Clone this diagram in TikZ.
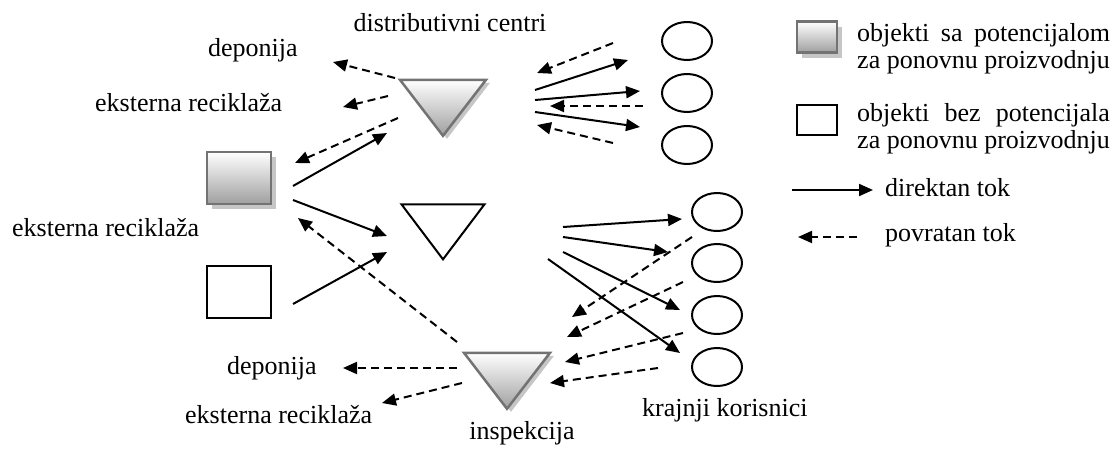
\documentclass[tikz,border=0pt]{standalone}
\usepackage{fontspec}
\usepackage{calc}
\setmainfont{Liberation Serif}
\usetikzlibrary{arrows.meta,%
                shapes.geometric,%
                shadows}

\newcommand{\legtxt}[3]{\begin{tabular}{@{}l@{}}\makebox[\widthof{za ponovnu proizvodnju}][s]{#1\hfill #2\hfill #3}\\za ponovnu proizvodnju\end{tabular}}

\tikzset{
  lbl/.style={font=\fontsize{26}{27}\selectfont, inner sep=0pt},
  fwd/.style={line width=2pt, -{Triangle[length=14pt,width=12pt]}},
  bck/.style={line width=2pt, dash pattern=on 8pt off 5pt, -{Triangle[length=14pt,width=12pt]}},
  potbox/.style={draw=gray!90!black, line width=2.5pt, top color=white, bottom color=gray!75,
    drop shadow={shadow xshift=5pt, shadow yshift=-5pt, fill=gray!45, opacity=1}},
  plainbox/.style={draw, line width=2pt, fill=white},
  pottri/.style={isosceles triangle, isosceles triangle stretches, shape border rotate=270,
    minimum width=86pt, minimum height=56pt, inner sep=0pt,
    draw=gray!90!black, line width=2.5pt, top color=white, bottom color=gray!75,
    drop shadow={shadow xshift=4pt, shadow yshift=-3pt, fill=gray!45, opacity=1}},
  plaintri/.style={isosceles triangle, isosceles triangle stretches, shape border rotate=270,
    minimum width=83pt, minimum height=55pt, inner sep=0pt, draw, line width=2pt},
  korisnik/.style={ellipse, draw, line width=2pt, minimum width=50pt, minimum height=38pt, inner sep=0pt}
}

\begin{document}
\begin{tikzpicture}[x=1pt,y=-1pt]
\useasboundingbox (0,0) rectangle (1116,450);

\node[potbox, minimum width=64pt, minimum height=52pt] (SQ1) at (239,178) {};
\node[plainbox, minimum width=64pt, minimum height=52pt] (SQ2) at (239,292) {};
\node[pottri] (DC1) at (443,101) {};
\node[plaintri] (DC2) at (443,225) {};
\node[pottri] (INS) at (507,374) {};

\node[korisnik] (K1) at (687,41) {};
\node[korisnik] (K2) at (687,93) {};
\node[korisnik] (K3) at (687,145) {};
\node[korisnik] (K4) at (717,212) {};
\node[korisnik] (K5) at (717,263) {};
\node[korisnik] (K6) at (717,315) {};
\node[korisnik] (K7) at (717,367) {};

\node[lbl] (tDC) at (450,23) {distributivni centri};
\node[lbl, anchor=west] (tDep1) at (208,50) {deponija};
\node[lbl, anchor=west] (tRec1) at (95,103) {eksterna reciklaža};
\node[lbl, anchor=west] (tRec2) at (12,228) {eksterna reciklaža};
\node[lbl, anchor=west] (tDep2) at (227,368) {deponija};
\node[lbl, anchor=west] (tRec3) at (185,415) {eksterna reciklaža};
\node[lbl] (tIns) at (522,433) {inspekcija};
\node[lbl, anchor=west] (tKK) at (642,410) {krajnji korisnici};

\coordinate (a1) at (395,78);  \coordinate (b1) at (333,62);
\coordinate (a2) at (388,96);  \coordinate (b2) at (343,107);
\coordinate (a3) at (398,118); \coordinate (b3) at (295,163);
\coordinate (a4) at (293,186); \coordinate (b4) at (387,133);
\coordinate (a5) at (293,200); \coordinate (b5) at (387,236);
\coordinate (a6) at (457,342); \coordinate (b6) at (298,218);
\coordinate (a7) at (293,304); \coordinate (b7) at (387,252);
\draw[bck] (a1) -- (b1);
\draw[bck] (a2) -- (b2);
\draw[bck] (a3) -- (b3);
\draw[fwd] (a4) -- (b4);
\draw[fwd] (a5) -- (b5);
\draw[bck] (a6) -- (b6);
\draw[fwd] (a7) -- (b7);

\coordinate (a8) at (613,43);   \coordinate (b8) at (537,73);
\coordinate (a9) at (535,90);   \coordinate (b9) at (628,60);
\coordinate (a10) at (535,100); \coordinate (b10) at (640,91);
\coordinate (a11) at (643,106); \coordinate (b11) at (550,106);
\coordinate (a12) at (535,112); \coordinate (b12) at (640,127);
\coordinate (a13) at (613,143); \coordinate (b13) at (537,125);
\draw[bck] (a8) -- (b8);
\draw[fwd] (a9) -- (b9);
\draw[fwd] (a10) -- (b10);
\draw[bck] (a11) -- (b11);
\draw[fwd] (a12) -- (b12);
\draw[bck] (a13) -- (b13);

\coordinate (a14) at (563,227); \coordinate (b14) at (682,219);
\coordinate (a15) at (563,237); \coordinate (b15) at (668,252);
\coordinate (a16) at (563,252); \coordinate (b16) at (680,310);
\coordinate (a17) at (548,259); \coordinate (b17) at (680,353);
\coordinate (a18) at (692,237); \coordinate (b18) at (572,317);
\coordinate (a19) at (683,282); \coordinate (b19) at (567,337);
\coordinate (a20) at (683,333); \coordinate (b20) at (565,362);
\coordinate (a21) at (658,368); \coordinate (b21) at (550,383);
\draw[fwd] (a14) -- (b14);
\draw[fwd] (a15) -- (b15);
\draw[fwd] (a16) -- (b16);
\draw[fwd] (a17) -- (b17);
\draw[bck] (a18) -- (b18);
\draw[bck] (a19) -- (b19);
\draw[bck] (a20) -- (b20);
\draw[bck] (a21) -- (b21);

\coordinate (a22) at (457,368); \coordinate (b22) at (343,368);
\coordinate (a23) at (462,383); \coordinate (b23) at (382,403);
\draw[bck] (a22) -- (b22);
\draw[bck] (a23) -- (b23);

\node[potbox, minimum width=40pt, minimum height=31pt] (L1) at (817,37) {};
\node[plainbox, minimum width=40pt, minimum height=30pt] (L2) at (817,120) {};
\node[lbl, anchor=west] (tL1) at (857,50) {\legtxt{objekti}{sa}{potencijalom}};
\node[lbl, anchor=west] (tL2) at (857,130) {\legtxt{objekti}{bez}{potencijala}};
\coordinate (lf1) at (792,190); \coordinate (lf2) at (873,190);
\draw[fwd] (lf1) -- (lf2);
\node[lbl, anchor=west] (tDir) at (885,188) {direktan tok};
\coordinate (lb1) at (857,237); \coordinate (lb2) at (798,237);
\draw[bck] (lb1) -- (lb2);
\node[lbl, anchor=west] (tPov) at (885,235) {povratan tok};

\end{tikzpicture}
\end{document}
